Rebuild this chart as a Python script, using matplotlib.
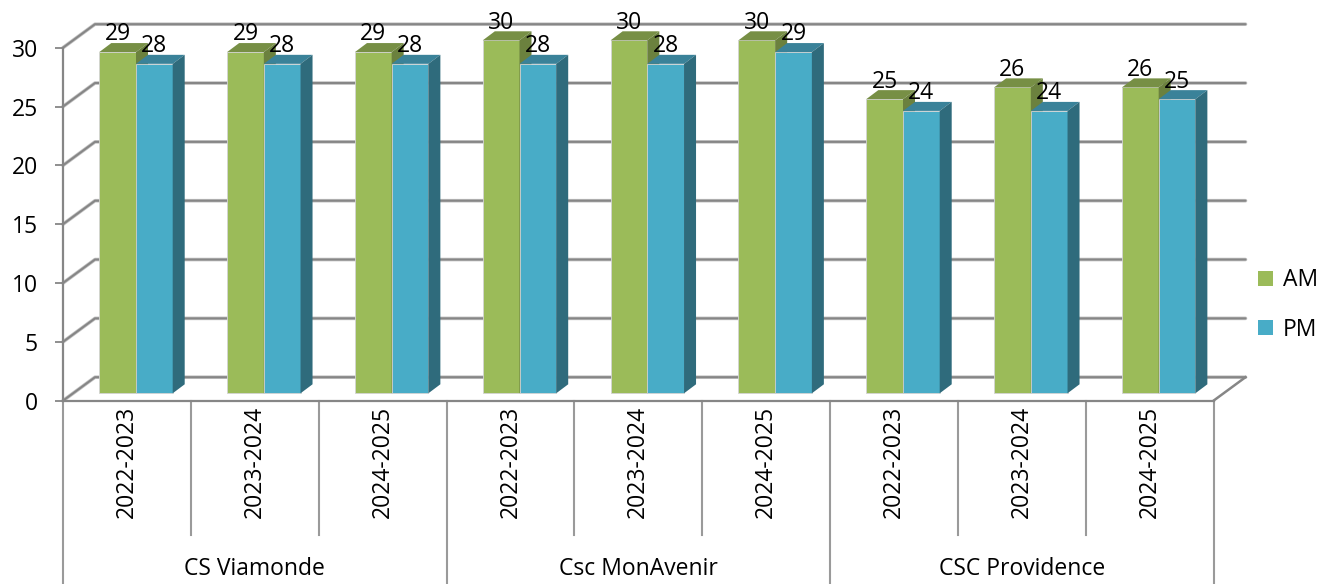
import matplotlib
matplotlib.use("Agg")
import matplotlib.pyplot as plt
from matplotlib.patches import Patch, Polygon

plt.rcParams['font.family'] = ['Open Sans', 'DejaVu Sans']

years = ["2022-2023", "2023-2024", "2024-2025"] * 3
groups = ["CS Viamonde", "Csc MonAvenir", "CSC Providence"]
am = [29, 29, 29, 30, 30, 30, 25, 26, 26]
pm = [28, 28, 28, 28, 28, 29, 24, 24, 25]
yticks = [0, 5, 10, 15, 20, 25, 30]

W, H = 1339, 584
LEFT, RIGHT, Y0, Y30 = 63, 1213.5, 400.7, 47.7
px_x = (RIGHT - LEFT) / len(am)
px_y = (Y0 - Y30) / 30
GRID = "#868686"
FS = 16.5

fig = plt.figure(figsize=(W / 100, H / 100), dpi=100)
ax = fig.add_axes([LEFT / W, 1 - Y0 / H, (RIGHT - LEFT) / W, (Y0 - Y30) / H])
ax.set_xlim(0, len(am))
ax.set_ylim(0, 30)
ax.patch.set_visible(False)

# depth of the walls and of the bars, pixels to data
wall_x, wall_y = 32 / px_x, 23.5 / px_y
depth_x, depth_y = 12 / px_x, 9 / px_y
base = 7.4 / px_y
start = 36.3 / px_x
bar_w = 36.7 / px_x

# back wall and floor
for v in yticks:
    ax.plot([0, wall_x, len(am) + wall_x], [v, v + wall_y, v + wall_y], color="#c4c4c4",
            lw=2.6, clip_on=False, zorder=1, solid_capstyle="round")
    ax.plot([0, wall_x, len(am) + wall_x], [v, v + wall_y, v + wall_y], color=GRID,
            lw=1.5, clip_on=False, zorder=1.1, solid_capstyle="round")
ax.plot([len(am), len(am) + wall_x], [0, wall_y], color=GRID, lw=1.8, clip_on=False, zorder=1.1)


def draw_bars(values, offset, color, top_color, side_color, z):
    xs = [i + start + offset for i in range(len(values))]
    ax.bar(xs, values, width=bar_w, bottom=base, align="edge", color=color,
           edgecolor="#d4d4d4", linewidth=0.6, zorder=z, clip_on=False)
    for x, v in zip(xs, values):
        top = v + base
        r = x + bar_w
        ax.add_patch(Polygon([(x, top), (r, top), (r + depth_x, top + depth_y), (x + depth_x, top + depth_y)],
                             facecolor=top_color, edgecolor="none", zorder=z, clip_on=False))
        ax.add_patch(Polygon([(r, base), (r + depth_x, base + depth_y), (r + depth_x, top + depth_y), (r, top)],
                             facecolor=side_color, edgecolor="none", zorder=z, clip_on=False))
        ax.annotate(str(v), (x + bar_w / 2, v), xytext=(0, 19 * 0.72), textcoords="offset points",
                    ha="center", va="baseline", fontsize=FS, color="black", zorder=10,
                    annotation_clip=False)


draw_bars(am, 0, "#9BBB59", "#778F45", "#6B813E", 3)
draw_bars(pm, bar_w, "#48ACC7", "#3A8299", "#2F6B7C", 4)

# axes
for s in ["top", "right"]:
    ax.spines[s].set_visible(False)
for s in ["left", "bottom"]:
    ax.spines[s].set_color(GRID)
    ax.spines[s].set_linewidth(1.6)
    ax.spines[s].set_zorder(5)
ax.set_yticks(yticks)
ax.tick_params(axis="y", length=6, width=1.3, color=GRID, pad=12, labelsize=FS, labelcolor="black")
ax.tick_params(axis="x", length=0, pad=0)
ax.set_xticks([])

# two level category axis
tier1 = -(535 - Y0) / px_y
tier2 = -(584 - Y0) / px_y
year_y = -(462 - Y0) / px_y
group_y = -(569 - Y0) / px_y
for i, year in enumerate(years):
    ax.text(i + 0.5, year_y, year, rotation=90, ha="center", va="center", fontsize=FS, clip_on=False)
for i in range(len(am) + 1):
    low = tier2 if i % 3 == 0 else tier1
    ax.plot([i, i], [0, low], color="#9a9a9a", lw=1.5, clip_on=False, zorder=2)
for i, group in enumerate(groups):
    ax.text(3 * i + 1.5, group_y, group, ha="center", va="center", fontsize=FS, clip_on=False)

handles = [Patch(facecolor="#9BBB59", label="AM"), Patch(facecolor="#48ACC7", label="PM")]
fig.legend(handles=handles, loc="center left", bbox_to_anchor=(1258 / W, 1 - 305 / H), frameon=False,
           fontsize=FS, handlelength=0.65, handleheight=0.65, handletextpad=0.45,
           labelspacing=1.1, borderpad=0, borderaxespad=0)

fig.savefig("out.png", dpi=100)
